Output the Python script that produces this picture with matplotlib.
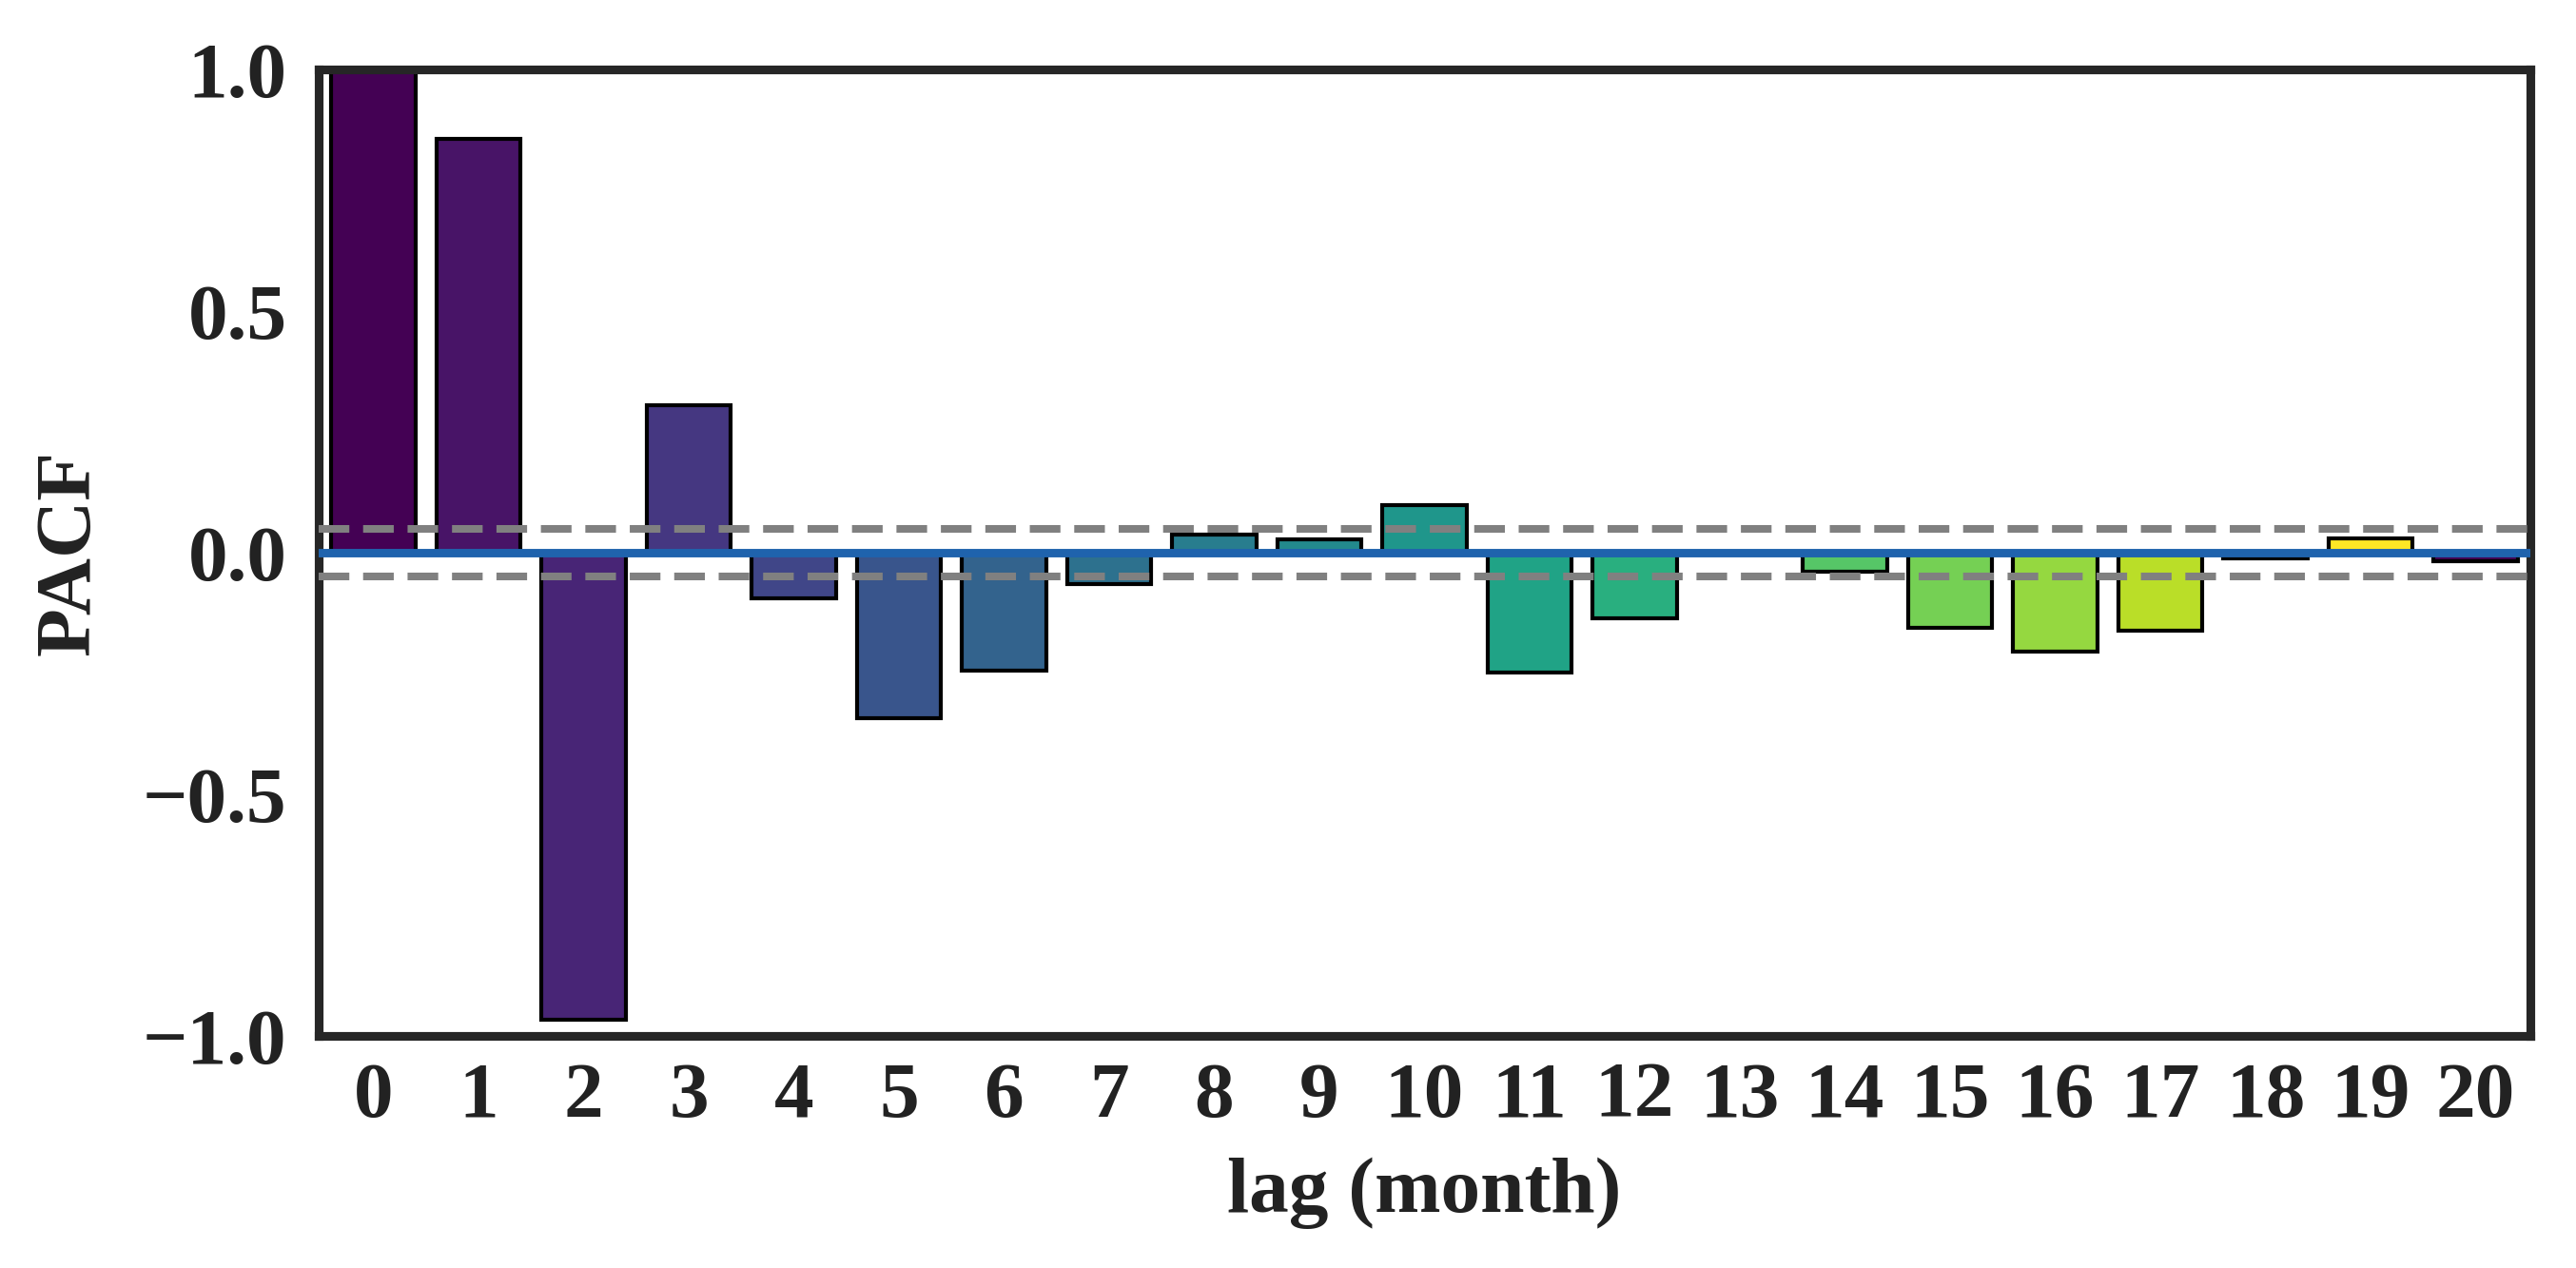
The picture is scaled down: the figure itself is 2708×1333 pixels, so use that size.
import numpy as np
import matplotlib
matplotlib.use('Agg')
import matplotlib.pyplot as plt

# PACF values, lags 0..20
lags = list(range(21))
pacf = [1.0, 0.857, -0.966, 0.305, -0.095, -0.343, -0.243, -0.064, 0.037, 0.027,
        0.098, -0.248, -0.136, 0.0, -0.039, -0.155, -0.205, -0.162, -0.012, 0.029, -0.018]
conf = 0.05
yticks = [-1.0, -0.5, 0.0, 0.5, 1.0]

plt.rcParams['font.family'] = ['Liberation Serif', 'DejaVu Serif']
plt.rcParams['font.weight'] = 'bold'
plt.rcParams['axes.unicode_minus'] = True

# 20-colour viridis palette, cycled like seaborn does (lag 20 wraps to first colour)
pal = plt.cm.viridis(np.linspace(0, 1, 20))
colors = [pal[i % len(pal)] for i in lags]

fig = plt.figure(figsize=(13.54, 6.665), dpi=200)
ax = fig.add_axes([0.1237, 0.183, 0.8586, 0.7622])

ax.bar(lags, pacf, width=0.8, color=colors, edgecolor='black', linewidth=1.5, zorder=2)
ax.axhline(conf, color='gray', linestyle=(0, (4.0, 1.8)), linewidth=2.9, zorder=3)
ax.axhline(-conf, color='gray', linestyle=(0, (4.0, 1.8)), linewidth=2.9, zorder=3)
ax.axhline(0, color='#1f63ad', linewidth=3.2, zorder=4)

ax.set_xlim(-0.52, 20.52)
ax.set_ylim(-1.0, 1.0)
ax.set_xticks(lags)
ax.set_xticklabels([str(l) for l in lags])
ax.set_yticks(yticks)
ax.set_yticklabels(['\u22121.0', '\u22120.5', '0.0', '0.5', '1.0'])
ax.tick_params(axis='both', length=0, labelsize=30, colors='#222222')
ax.tick_params(axis='x', pad=10)
ax.tick_params(axis='y', pad=12)
for lab in ax.get_xticklabels() + ax.get_yticklabels():
    lab.set_fontweight('bold')

ax.set_xlabel('lag (month)', fontsize=30, fontweight='bold', color='#222222', labelpad=9)
ax.set_ylabel('PACF', fontsize=30, fontweight='bold', color='#222222', labelpad=14)

for s in ax.spines.values():
    s.set_color('#262626')
    s.set_linewidth(3.3)

fig.savefig('out.png', dpi=200)
